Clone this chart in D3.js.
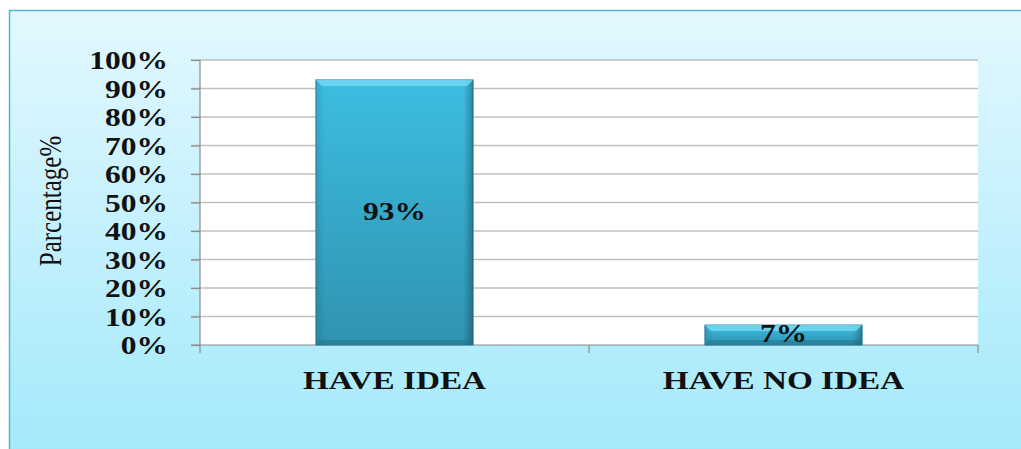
<!DOCTYPE html>
<html><head><meta charset="utf-8">
<script src="https://d3js.org/d3.v7.min.js"></script>
<style>body{margin:0;background:#fff}svg{display:block}</style>
</head><body>
<script>
const categories = ["HAVE IDEA", "HAVE NO IDEA"];
const values = [93, 7];
const valueLabels = ["93%", "7%"];
const yTicks = [0,10,20,30,40,50,60,70,80,90,100];
const yTitle = "Parcentage%";

const W = 1021, H = 449;
const SX = 1.26; // horizontal stretch of the original picture's text
const svg = d3.select("body").append("svg").attr("width", W).attr("height", H);
const defs = svg.append("defs");
const FONT = "'Liberation Serif', 'Times New Roman', serif";

const bg = defs.append("linearGradient").attr("id","bg").attr("x1",0).attr("y1",0).attr("x2",0).attr("y2",1);
bg.append("stop").attr("offset","0%").attr("stop-color","#E3F8FE");
bg.append("stop").attr("offset","100%").attr("stop-color","#A3E9FB");

const barG = defs.append("linearGradient").attr("id","barG").attr("x1",0).attr("y1",0).attr("x2",0).attr("y2",1);
barG.append("stop").attr("offset","0%").attr("stop-color","#3DBDE2");
barG.append("stop").attr("offset","100%").attr("stop-color","#2F93B0");

const barH = defs.append("linearGradient").attr("id","barH").attr("x1",0).attr("y1",0).attr("x2",1).attr("y2",0);
barH.append("stop").attr("offset","0%").attr("stop-color","#000").attr("stop-opacity",0.10);
barH.append("stop").attr("offset","6%").attr("stop-color","#000").attr("stop-opacity",0);
barH.append("stop").attr("offset","94%").attr("stop-color","#000").attr("stop-opacity",0);
barH.append("stop").attr("offset","100%").attr("stop-color","#000").attr("stop-opacity",0.28);

// panel
svg.append("rect").attr("x",9.5).attr("y",10.5).attr("width",W).attr("height",H)
  .attr("fill","url(#bg)").attr("stroke","#4DB6D6").attr("stroke-width",1.5);

const m = {left:200, right:978, top:60, bottom:345};
const x = d3.scaleBand().domain(categories).range([m.left, m.right]).paddingInner(0.596).paddingOuter(0.298);
const y = d3.scaleLinear().domain([0,100]).range([m.bottom, m.top]);

// plot area
svg.append("rect").attr("x",m.left).attr("y",m.top).attr("width",m.right-m.left).attr("height",m.bottom-m.top).attr("fill","#fff");

// gridlines
svg.append("g").selectAll("line").data(yTicks.filter(d=>d>0)).join("line")
  .attr("x1",191).attr("x2",m.right).attr("y1",d=>y(d)).attr("y2",d=>y(d))
  .attr("stroke","#BFBFBF").attr("stroke-width",1.5);

// y axis
const yAxis = d3.axisLeft(y).tickValues(yTicks).tickFormat(d=>d+"%").tickSize(9);
const ga = svg.append("g").attr("transform",`translate(${m.left},0)`).call(yAxis);
ga.select(".domain").attr("stroke","#8C8C8C").attr("stroke-width",1.2).attr("d",`M0,${m.top}V${m.bottom}`);
ga.selectAll(".tick line").attr("stroke","#8C8C8C").attr("stroke-width",1.2);
ga.selectAll("text").attr("font-family",FONT).attr("font-weight","bold")
  .attr("font-size",25).attr("fill","#111").attr("dy","0.34em")
  .attr("x",-32/SX).attr("transform",`scale(${SX},1)`);

// x axis
svg.append("line").attr("x1",191).attr("x2",m.right).attr("y1",m.bottom).attr("y2",m.bottom).attr("stroke","#8C8C8C").attr("stroke-width",1.2);
const seps = [m.left, m.left + x.step(), m.right];
svg.append("g").selectAll("line").data(seps).join("line")
  .attr("x1",d=>d).attr("x2",d=>d).attr("y1",m.bottom).attr("y2",m.bottom+8).attr("stroke","#8C8C8C").attr("stroke-width",1.2);

svg.append("g").selectAll("text").data(categories).join("text")
  .attr("transform",d=>`translate(${x(d)+x.bandwidth()/2},389) scale(1.33,1)`).attr("text-anchor","middle")
  .attr("font-family",FONT).attr("font-weight","bold").attr("font-size",25)
  .attr("fill","#111").text(d=>d);

// bars
const bars = svg.append("g").selectAll("g").data(categories).join("g");
bars.append("rect").attr("x",d=>x(d)).attr("y",(d,i)=>y(values[i])).attr("width",x.bandwidth())
  .attr("height",(d,i)=>m.bottom-y(values[i])).attr("fill","url(#barG)").attr("stroke","#2A7F98").attr("stroke-width",1);
bars.append("rect").attr("x",d=>x(d)).attr("y",(d,i)=>y(values[i])).attr("width",x.bandwidth())
  .attr("height",(d,i)=>m.bottom-y(values[i])).attr("fill","url(#barH)");
// bevel top highlight
bars.append("path").attr("d",(d,i)=>{
  const x0=x(d), x1=x(d)+x.bandwidth(), t=y(values[i]), b=6;
  return `M${x0},${t}L${x1},${t}L${x1-b},${t+b}L${x0+b},${t+b}Z`;
}).attr("fill","#7BDDF5").attr("opacity",0.75);
// bevel bottom shadow
bars.append("path").attr("d",(d,i)=>{
  const x0=x(d), x1=x(d)+x.bandwidth(), bt=m.bottom, b=5;
  return `M${x0},${bt}L${x1},${bt}L${x1-b},${bt-b}L${x0+b},${bt-b}Z`;
}).attr("fill","#1F6F86").attr("opacity",0.45);

// value labels
svg.append("g").selectAll("text").data(categories).join("text")
  .attr("transform",(d,i)=>{
    const cx = x(d)+x.bandwidth()/2;
    const by = values[i] > 20 ? (y(values[i])+m.bottom)/2 + 8 : m.bottom - 3;
    return `translate(${cx},${by}) scale(${SX},1)`;
  })
  .attr("text-anchor","middle").attr("font-family",FONT).attr("font-weight","bold")
  .attr("font-size",25).attr("fill","#111").text((d,i)=>valueLabels[i]);

// y title
svg.append("text").attr("transform","translate(61,201) rotate(-90) scale(1,1.25)").attr("text-anchor","middle")
  .attr("font-family",FONT).attr("font-size",25)
  .attr("fill","#111").text(yTitle);
</script>
</body></html>
